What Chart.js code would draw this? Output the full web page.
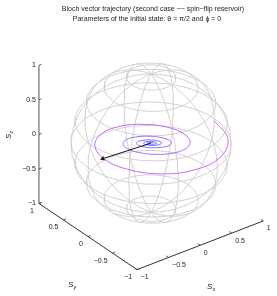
<!DOCTYPE html>
<html><head><meta charset="utf-8">
<script src="https://cdn.jsdelivr.net/npm/chart.js@4/dist/chart.umd.min.js"></script>
<style>html,body{margin:0;padding:0;background:#fff}canvas{display:block}</style>
</head><body>
<canvas id="c" width="277" height="296"></canvas>
<script>
// ---- data ----
const titleLines = ["Bloch vector trajectory (second case \u2212\u2212 spin\u2212flip reservoir)",
                    "Parameters of the initial state: \u03b8 = \u03c0/2 and \u03d5 = 0"];
const axisTicks = [-1, -0.5, 0, 0.5, 1];
const tickLabels = ["\u22121", "\u22120.5", "0", "0.5", "1"];
// sphere wireframe (degrees)
const latitudes = [-72, -54, -36, -18, 0, 18, 36, 54, 72];
const longitudes = [-180, -144, -108, -72, -36, 0, 36, 72, 108, 144];
// trajectory samples every 30 degrees of precession (clockwise seen from +z)
const trajAzimuth = [0,-30,-60,-90,-120,-150,-180,-210,-240,-270,-300,-330,
  -360,-390,-420,-450,-480,-510,-540,-570,-600,-630,-660,-690,
  -720,-750,-780,-810,-840,-870,-900,-930,-960,-990,-1020,-1050,
  -1080,-1110,-1140,-1170,-1200,-1230,-1260,-1290,-1320,-1350,-1380,-1410,
  -1440,-1470,-1500,-1530,-1560,-1590,-1620,-1650,-1680,-1710,-1740,-1770,-1800];
// transverse length sqrt(Sx^2+Sy^2)
const trajRadius = [1.00,0.97,0.93,0.88,0.83,0.78,0.745,0.71,0.67,0.625,0.58,0.55,
  0.52,0.493,0.466,0.442,0.418,0.396,0.375,0.355,0.336,0.319,0.302,0.286,
  0.270,0.256,0.243,0.230,0.218,0.206,0.195,0.185,0.175,0.166,0.157,0.149,
  0.141,0.133,0.126,0.120,0.113,0.107,0.102,0.096,0.091,0.086,0.082,0.077,
  0.073,0.069,0.066,0.062,0.059,0.056,0.053,0.050,0.047,0.045,0.042,0.040,0.038];
// Sz
const trajSz = [-0.025,-0.006,0.015,0.034,0.046,0.046,0.034,0.008,-0.025,-0.055,-0.071,-0.070,
  -0.049,-0.011,0.031,0.067,0.084,0.079,0.052,0.012,-0.031,-0.064,-0.078,-0.071,
  -0.045,-0.010,0.026,0.052,0.062,0.055,0.035,0.008,-0.019,-0.039,-0.046,-0.041,
  -0.026,-0.006,0.014,0.028,0.034,0.030,0.019,0.004,-0.010,-0.020,-0.024,-0.021,
  -0.013,-0.003,0.007,0.015,0.018,0.016,0.010,0.002,-0.005,-0.011,-0.012,-0.011,-0.007];
// Bloch vector arrow (Sx, Sy, Sz)
const arrowVec = [-0.72, 0.06, 0];

// ---- projection (view az -37.5, el 30) ----
function P(sx, sy, sz) {
  return { x: 65 * sx - 50.5 * sy, y: 25 * sx + 34 * sy + 71 * sz };
}
const D = Math.PI / 180;

const datasets = [];
const gray = '#d0d0d0';
latitudes.forEach(la => {
  const pts = [];
  for (let lo = 0; lo <= 360; lo += 4) pts.push(P(Math.cos(la*D)*Math.cos(lo*D), Math.cos(la*D)*Math.sin(lo*D), Math.sin(la*D)));
  datasets.push({ data: pts, borderColor: gray, borderWidth: 1, order: 5 });
});
longitudes.forEach(lo => {
  const pts = [];
  for (let la = -90; la <= 90; la += 3) pts.push(P(Math.cos(la*D)*Math.cos(lo*D), Math.cos(la*D)*Math.sin(lo*D), Math.sin(la*D)));
  datasets.push({ data: pts, borderColor: gray, borderWidth: 1, order: 5 });
});
// trajectory
const tPts = trajAzimuth.map((a, i) => P(trajRadius[i]*Math.cos(a*D), trajRadius[i]*Math.sin(a*D), trajSz[i]));
const nT = tPts.length;
function tcol(f) {
  const c0 = [212, 102, 255], c1 = [100, 115, 255];
  return `rgb(${c0.map((v, j) => Math.round(v + (c1[j]-v)*f)).join(',')})`;
}
datasets.push({ data: tPts, borderWidth: 1, tension: 0.4, order: 2,
  segment: { borderColor: ctx => tcol(Math.min(1, ctx.p0DataIndex / (nT-1) * 1.3)) } });
// axes lines
const axisCol = '#333';
datasets.push({ data: [P(-1, 1, -1), P(-1, 1, 1)], borderColor: '#555', borderWidth: 1, order: 4 });
datasets.push({ data: [P(-1, 1, -1), P(-1, -1, -1)], borderColor: axisCol, borderWidth: 1, order: 4 });
datasets.push({ data: [P(-1, -1, -1), P(1, -1, -1)], borderColor: axisCol, borderWidth: 1, order: 4 });
// arrow
datasets.push({ data: [P(0, 0, 0), P(arrowVec[0], arrowVec[1], arrowVec[2])], borderColor: '#111', borderWidth: 1, order: 1,
  pointRadius: [0, 2.8], pointStyle: 'triangle', backgroundColor: '#111', pointBorderColor: '#111', pointBorderWidth: 0,
  pointRotation: (function(){ const a = P(0,0,0), b = P(arrowVec[0], arrowVec[1], arrowVec[2]);
    const dx = b.x - a.x, dy = -(b.y - a.y); return Math.atan2(dx, -dy) / D; })() });

datasets.forEach(d => { d.showLine = true; if (d.pointRadius === undefined) d.pointRadius = 0; d.fill = false; });

const textPlugin = {
  id: 'texts',
  afterDraw(chart) {
    const ctx = chart.ctx, sx = chart.scales.x, sy = chart.scales.y;
    const px = (p) => ({ x: sx.getPixelForValue(p.x), y: sy.getPixelForValue(p.y) });
    ctx.save();
    ctx.fillStyle = '#222';
    ctx.textBaseline = 'middle';
    ctx.font = '7px "Liberation Sans", Arial, sans-serif';
    ctx.textAlign = 'center';
    ctx.fillText(titleLines[0], 153, 9.5);
    ctx.fillText(titleLines[1], 147, 19.5);
    ctx.font = '7px "Liberation Sans", Arial, sans-serif';
    ctx.strokeStyle = '#333'; ctx.lineWidth = 0.8;
    axisTicks.forEach((t, i) => {
      // z axis
      let p = px(P(-1, 1, t));
      ctx.textAlign = 'right'; ctx.fillText(tickLabels[i], p.x - 3, p.y);
      let q = px(P(-1 + 0.04, 1, t));
      ctx.beginPath(); ctx.moveTo(p.x, p.y); ctx.lineTo(q.x, q.y); ctx.stroke();
      // y axis
      p = px(P(-1, t, -1));
      ctx.textAlign = 'right'; ctx.fillText(tickLabels[i], p.x - 5, p.y + 7.5);
      q = px(P(-1 + 0.04, t, -1));
      ctx.beginPath(); ctx.moveTo(p.x, p.y); ctx.lineTo(q.x, q.y); ctx.stroke();
      // x axis
      p = px(P(t, -1, -1));
      ctx.textAlign = 'left'; ctx.fillText(tickLabels[i], p.x + 3.5, p.y + 7.5);
      q = px(P(t, -1 + 0.05, -1));
      ctx.beginPath(); ctx.moveTo(p.x, p.y); ctx.lineTo(q.x, q.y); ctx.stroke();
    });
    function sLabel(x, y, sub, rot) {
      ctx.save(); ctx.translate(x, y); if (rot) ctx.rotate(rot);
      ctx.textAlign = 'left';
      ctx.font = 'italic 8px "Liberation Sans", Arial, sans-serif';
      ctx.fillText('S', -4, 0);
      ctx.font = 'italic 5.5px "Liberation Sans", Arial, sans-serif';
      ctx.fillText(sub, 1.5, 2.5);
      ctx.restore();
    }
    sLabel(72, 285, 'y', 0);
    sLabel(211, 287, 'x', 0);
    sLabel(9, 135, 'z', -Math.PI / 2);
    ctx.restore();
  }
};

new Chart(document.getElementById('c'), {
  type: 'scatter',
  data: { datasets },
  options: {
    responsive: false, animation: false, events: [],
    layout: { padding: 0 },
    plugins: { legend: { display: false }, tooltip: { enabled: false } },
    scales: {
      x: { type: 'linear', display: false, min: -151.5, max: 125.5 },
      y: { type: 'linear', display: false, min: -153, max: 143 }
    }
  },
  plugins: [textPlugin]
});
</script>
</body></html>
